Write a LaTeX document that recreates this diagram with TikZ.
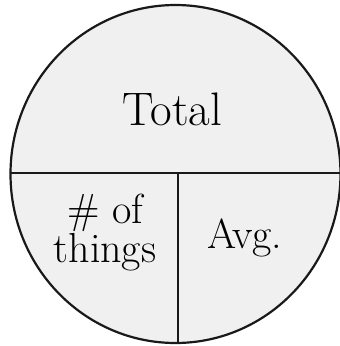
\documentclass[tikz,border=0pt]{standalone}
\usepackage{tikz}
\tikzset{
  region/.style={fill=black!6, draw=black!90, line width=2.2pt},
  divider/.style={draw=black!90, line width=2pt},
  biglabel/.style={anchor=base, inner sep=0pt, font=\fontsize{47}{54}\selectfont},
  label/.style={anchor=base, inner sep=0pt, font=\fontsize{42}{48}\selectfont},
}
\begin{document}
\begin{tikzpicture}[x=1pt, y=-1pt]
  \useasboundingbox (0,0) rectangle (340,346);
  \clip (0,0) rectangle (340,346);
  \fill[white] (0,0) rectangle (340,346);
  \coordinate (c) at (175.5,174);
  \draw[region] (c) ellipse [x radius=165, y radius=169];
  \coordinate (hl) at (10,173);
  \coordinate (hr) at (341,173);
  \coordinate (vt) at (177.5,173);
  \coordinate (vb) at (177.5,344);
  \draw[divider] (hl) -- (hr);
  \draw[divider] (vt) -- (vb);
  \node[biglabel] (total) at (172.5,125) {Total};
  \node[label] (num) at (105,223) {\# of};
  \node[label] (things) at (105,262) {things};
  \node[label] (avg) at (245,248) {Avg.};
\end{tikzpicture}
\end{document}
